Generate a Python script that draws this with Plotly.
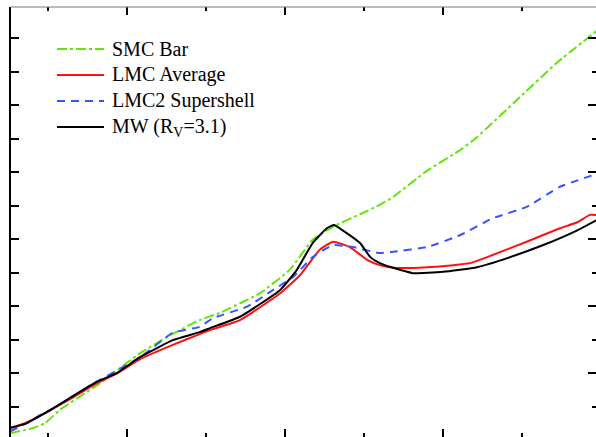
import plotly.graph_objects as go

# Series values: x = 1/lambda [1/um], y = A(lambda)/A(V)
smc_x = [0.52, 0.81, 0.96, 1.15, 1.66, 2.17, 2.51, 2.92, 3.18, 3.68, 4.06, 4.35, 4.62, 4.95, 5.20, 5.37, 5.80, 6.22, 6.43, 6.94, 7.44, 7.94]
smc_y = [0.10, 0.18, 0.25, 0.45, 0.85, 1.30, 1.54, 1.79, 1.90, 2.19, 2.54, 2.99, 3.19, 3.37, 3.51, 3.63, 4.02, 4.33, 4.52, 5.08, 5.63, 6.10]

lmc_x = [0.52, 0.71, 0.96, 1.28, 1.62, 1.87, 2.17, 2.58, 2.92, 3.05, 3.43, 3.94, 4.19, 4.44, 4.61, 4.82, 5.04, 5.20, 5.37, 5.80, 6.13, 6.34, 6.56, 7.06, 7.48, 7.70, 7.86, 7.94]
lmc_y = [0.18, 0.25, 0.40, 0.61, 0.85, 0.99, 1.21, 1.42, 1.58, 1.64, 1.79, 2.19, 2.46, 2.84, 2.96, 2.88, 2.69, 2.61, 2.57, 2.58, 2.61, 2.64, 2.73, 2.96, 3.16, 3.25, 3.36, 3.36]

lmc2_x = [0.52, 0.71, 0.90, 1.09, 1.62, 2.17, 2.58, 2.92, 3.09, 3.52, 3.85, 4.10, 4.35, 4.61, 4.86, 5.20, 5.37, 5.80, 6.22, 6.63, 7.06, 7.48, 7.94]
lmc2_y = [0.13, 0.24, 0.37, 0.49, 0.87, 1.24, 1.60, 1.69, 1.82, 1.99, 2.24, 2.43, 2.73, 2.91, 2.88, 2.79, 2.81, 2.88, 3.06, 3.31, 3.48, 3.78, 3.97]

mw_x = [0.52, 0.71, 0.96, 1.28, 1.62, 1.87, 2.17, 2.58, 2.92, 3.05, 3.43, 3.94, 4.15, 4.35, 4.53, 4.62, 4.73, 4.95, 5.08, 5.20, 5.37, 5.62, 6.00, 6.43, 6.85, 7.27, 7.70, 7.94]
mw_y = [0.18, 0.24, 0.40, 0.63, 0.87, 1.00, 1.24, 1.49, 1.61, 1.67, 1.84, 2.24, 2.54, 2.94, 3.16, 3.21, 3.13, 2.94, 2.73, 2.64, 2.57, 2.49, 2.51, 2.58, 2.73, 2.91, 3.13, 3.28]

names = ["SMC Bar", "LMC Average", "LMC2 Supershell", "MW (R<sub>V</sub>=3.1)"]
colors = ["#62e60a", "#ff1010", "#3355ff", "#000000"]
dashes = ["10px,3px,3px,3px", "solid", "8px,6px", "solid"]
series = [(smc_x, smc_y), (lmc_x, lmc_y), (lmc2_x, lmc2_y), (mw_x, mw_y)]

XR = [0.519, 7.937]
YR = [0.045, 6.463]
FONT = "Liberation Serif, Times New Roman, serif"

fig = go.Figure()
for (xs, ys), nm, c, d in zip(series, names, colors, dashes):
    fig.add_trace(go.Scatter(x=xs, y=ys, mode="lines", name=nm, showlegend=False,
                             line=dict(color=c, width=2, dash=d, shape="spline", smoothing=0.4),
                             hoverinfo="skip"))

# legend drawn manually
row_y = [0.9023, 0.8419, 0.7814, 0.7209]
shapes = []
annotations = []
for ry, nm, c, d in zip(row_y, names, colors, dashes):
    shapes.append(dict(type="line", xref="paper", yref="paper", x0=0.0802, x1=0.1604,
                       y0=ry, y1=ry, line=dict(color=c, width=2, dash=d)))
    annotations.append(dict(xref="paper", yref="paper", x=0.1706, y=ry, xanchor="left",
                            yanchor="middle", text=nm, showarrow=False,
                            font=dict(family=FONT, size=20, color="black")))
# left axis line and top frame line
shapes.append(dict(type="line", xref="paper", yref="paper", x0=0, x1=0, y0=0, y1=1,
                   line=dict(color="black", width=2)))
shapes.append(dict(type="line", xref="paper", yref="paper", x0=0, x1=1, y0=1, y1=1,
                   line=dict(color="#777777", width=1)))

fig.update_layout(
    width=596, height=437,
    margin=dict(l=10, r=0, t=7, b=0),
    paper_bgcolor="white", plot_bgcolor="white",
    font=dict(family=FONT),
    showlegend=False,
    shapes=shapes, annotations=annotations,
    xaxis=dict(range=XR, showgrid=False, zeroline=False, showline=False,
               ticks="inside", tick0=0, dtick=2, ticklen=8, tickwidth=1.5, tickcolor="black",
               minor=dict(ticks="inside", dtick=1, tick0=0, ticklen=4, tickwidth=1.5, tickcolor="black", showgrid=False),
               mirror="ticks", showticklabels=False),
    yaxis=dict(range=YR, showgrid=False, zeroline=False, showline=False,
               ticks="inside", tickvals=[0.5, 1, 1.5, 2, 2.5, 3, 3.5, 4, 4.5, 5, 5.5, 6],
               ticklen=9, tickwidth=1.5, tickcolor="black", showticklabels=False),
    yaxis2=dict(range=YR, overlaying="y", side="right", anchor="x", showgrid=False, zeroline=False,
                showline=False, ticks="inside", tick0=0, dtick=1, ticklen=8, tickwidth=1.5,
                tickcolor="black",
                minor=dict(ticks="inside", dtick=0.5, tick0=0, ticklen=4, tickwidth=1.5, tickcolor="black", showgrid=False),
                showticklabels=False),
)
# invisible trace to make the right axis live
fig.add_trace(go.Scatter(x=[XR[0]], y=[YR[0]], yaxis="y2", mode="markers",
                         marker=dict(opacity=0), showlegend=False, hoverinfo="skip"))

fig.write_html("out.html")
